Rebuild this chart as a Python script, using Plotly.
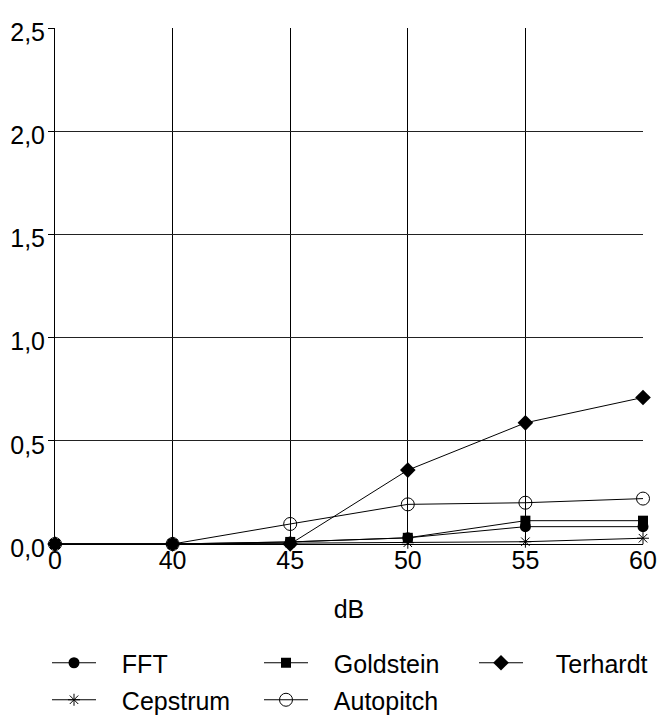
import plotly.graph_objects as go

categories = ["0", "40", "45", "50", "55", "60"]
fft = [0.0, 0.0, 0.01, 0.03, 0.084, 0.084]
goldstein = [0.0, 0.0, 0.01, 0.03, 0.113, 0.113]
terhardt = [0.0, 0.0, 0.0, 0.358, 0.587, 0.71]
cepstrum = [0.0, 0.0, 0.004, 0.006, 0.011, 0.028]
autopitch = [0.0, 0.0, 0.097, 0.192, 0.20, 0.22]
y_ticks = [0.0, 0.5, 1.0, 1.5, 2.0, 2.5]

FONT = "Liberation Sans, Arial, sans-serif"
PAD = "\u00a0\u00a0\u00a0"

series = [
    ("FFT", fft, dict(symbol="circle", size=11, color="black")),
    ("Goldstein", goldstein, dict(symbol="square", size=10, color="black")),
    ("Terhardt", terhardt, dict(symbol="diamond", size=12, color="black")),
    ("Cepstrum", cepstrum, dict(symbol="asterisk-open", size=10, color="black",
                                line=dict(color="black", width=1))),
    ("Autopitch", autopitch, dict(symbol="circle-open", size=13, color="black",
                                  line=dict(color="black", width=1))),
]
# legend slot positions (container px): left x of entry, row centre y
legend_pos = [(47, 663), (259, 663), (474, 663), (47, 700), (259, 700)]

fig = go.Figure()
legend_layouts = {}
for i, ((name, vals, marker), (lx, ly)) in enumerate(zip(series, legend_pos)):
    key = "legend" if i == 0 else f"legend{i + 1}"
    pad = PAD + "\u00a0" if name == "Terhardt" else PAD
    fig.add_trace(go.Scatter(
        x=categories, y=vals, name=pad + name, mode="lines+markers",
        line=dict(color="black", width=1), marker=marker,
        cliponaxis=False, legend=key,
    ))
    legend_layouts[key] = dict(
        orientation="h", xref="container", yref="container",
        x=lx / 659, y=1 - ly / 720, xanchor="left", yanchor="middle",
        font=dict(family=FONT, size=25, color="black"),
        itemwidth=44, bgcolor="rgba(0,0,0,0)", borderwidth=0,
    )

fig.update_layout(
    width=659, height=720,
    margin=dict(l=55, r=16, t=28, b=176, autoexpand=False),
    plot_bgcolor="white", paper_bgcolor="white",
    separators=",.",
    font=dict(family=FONT, size=25, color="black"),
    showlegend=True,
    xaxis=dict(
        type="category", categoryorder="array", categoryarray=categories,
        range=[0, len(categories) - 1], automargin=False,
        showgrid=True, gridcolor="black", gridwidth=1,
        showline=True, linecolor="black", linewidth=1,
        ticks="", ticklabelstandoff=-6,
        tickfont=dict(family=FONT, size=25, color="black"),
        title=dict(text="dB", font=dict(family=FONT, size=25, color="black"), standoff=27),
    ),
    yaxis=dict(
        range=[0, 2.5], tickvals=y_ticks, tickformat=".1f", automargin=False,
        showgrid=True, gridcolor="#222", gridwidth=1,
        showline=True, linecolor="black", linewidth=1,
        zeroline=True, zerolinecolor="black", zerolinewidth=1,
        ticks="outside", ticklen=6, tickcolor="black",
        ticklabelshift=4, ticklabelstandoff=-2,
        tickfont=dict(family=FONT, size=25, color="black"),
    ),
    **legend_layouts,
)

fig.write_html(
    "out.html",
    config={"displayModeBar": False},
    post_script="document.body.style.margin='0';document.body.style.overflow='hidden';",
)
